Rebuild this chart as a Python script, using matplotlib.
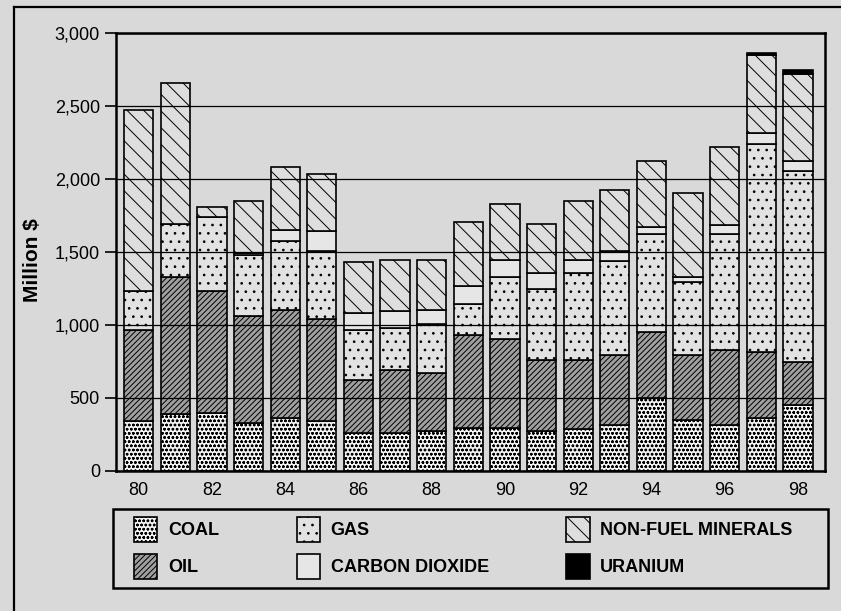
import matplotlib
matplotlib.use("Agg")
import matplotlib.pyplot as plt
from matplotlib.patches import Rectangle
from matplotlib.lines import Line2D
import numpy as np

# Values (million $), one entry per year 1980-1998
years = list(range(1980, 1999))
coal = [339, 387, 392, 330, 362, 339, 255, 255, 271, 290, 290, 271, 283, 312, 499, 346, 312, 358, 449]
oil = [622, 938, 838, 733, 740, 702, 365, 437, 401, 637, 614, 485, 473, 483, 450, 444, 512, 455, 296]
gas = [273, 365, 505, 417, 474, 466, 341, 287, 335, 216, 426, 490, 599, 639, 672, 501, 797, 1427, 1309]
carbon_dioxide = [0, 0, 0, 10, 73, 137, 118, 114, 91, 119, 114, 107, 89, 69, 50, 39, 64, 76, 68]
non_fuel = [1235, 967, 73, 357, 434, 387, 353, 351, 346, 444, 382, 337, 405, 419, 451, 574, 533, 529, 592]
uranium = [0, 0, 0, 0, 0, 0, 0, 0, 0, 0, 0, 0, 0, 0, 0, 0, 0, 15, 28]

y_ticks = [0, 500, 1000, 1500, 2000, 2500, 3000]
x_tick_years = [1980, 1982, 1984, 1986, 1988, 1990, 1992, 1994, 1996, 1998]

BG = "#d9d9d9"
plt.rcParams["font.family"] = ["Liberation Sans", "DejaVu Sans"]
plt.rcParams["hatch.linewidth"] = 0.7

# label, values, face colour, hatch
series = [
    ("COAL", coal, "#f4f4f4", "oooo"),
    ("OIL", oil, "#a0a0a0", "//////"),
    ("GAS", gas, "#e2e2e2", ".."),
    ("CARBON DIOXIDE", carbon_dioxide, "#e6e6e6", None),
    ("NON-FUEL MINERALS", non_fuel, "#dedede", "\\\\"),
    ("URANIUM", uranium, "black", None),
]

fig = plt.figure(figsize=(8.41, 6.11), dpi=100, facecolor=BG)
ax = fig.add_axes([116 / 841, 1 - 470.7 / 611, (825 - 116) / 841, (470.7 - 32.7) / 611])
ax.set_facecolor(BG)

x = np.array(years)
bottom = np.zeros(len(years))
handles = []
for label, values, face, hatch in series:
    values = np.array(values, dtype=float)
    mask = values > 0
    ax.bar(x[mask], values[mask], width=0.8, bottom=bottom[mask], color=face,
           edgecolor="black", linewidth=1.2, hatch=hatch, zorder=1)
    bottom += values
    handles.append(Rectangle((0, 0), 1, 1, facecolor=face, edgecolor="black",
                             linewidth=1.2, hatch=hatch, label=label))

ax.set_xlim(1979.38, 1998.74)
ax.set_ylim(0, 3000)
ax.set_yticks(y_ticks)
ax.set_yticklabels([f"{v:,}" for v in y_ticks], fontsize=13)
ax.set_xticks(x_tick_years)
ax.set_xticklabels([str(y)[2:] for y in x_tick_years], fontsize=13)
ax.tick_params(axis="x", length=0, pad=8)
ax.tick_params(axis="y", length=8, width=1.2, pad=3.5, direction="out")

ax.grid(axis="y", color="black", linewidth=0.9)
ax.set_axisbelow(False)
for side in ax.spines.values():
    side.set_linewidth(1.8)

fig.text(33 / 841, 1 - 260 / 611, "Million $", rotation=90, fontsize=15,
         fontweight="bold", ha="center", va="center")

# legend box and entries
fig.add_artist(Rectangle((113 / 841, 1 - 588 / 611), (828 - 113) / 841, (588 - 509) / 611,
                         transform=fig.transFigure, facecolor="none", edgecolor="black",
                         linewidth=1.8))
fig.legend(handles=handles, ncol=3, loc="upper left",
           bbox_to_anchor=(134 / 841, 1 - 517 / 611), frameon=False,
           prop={"weight": "bold", "size": 13}, handlelength=1.28, handleheight=1.75,
           handletextpad=0.6, labelspacing=0.67, columnspacing=4.3,
           borderpad=0, borderaxespad=0)

# outer frame of the figure panel
fig.add_artist(Line2D([14 / 841, 14 / 841], [0, 1 - 7 / 611], transform=fig.transFigure,
                      color="black", linewidth=1.6))
fig.add_artist(Line2D([14 / 841, 1], [1 - 7 / 611, 1 - 7 / 611], transform=fig.transFigure,
                      color="black", linewidth=1.6))

fig.savefig("out.png", dpi=100, facecolor=BG)
